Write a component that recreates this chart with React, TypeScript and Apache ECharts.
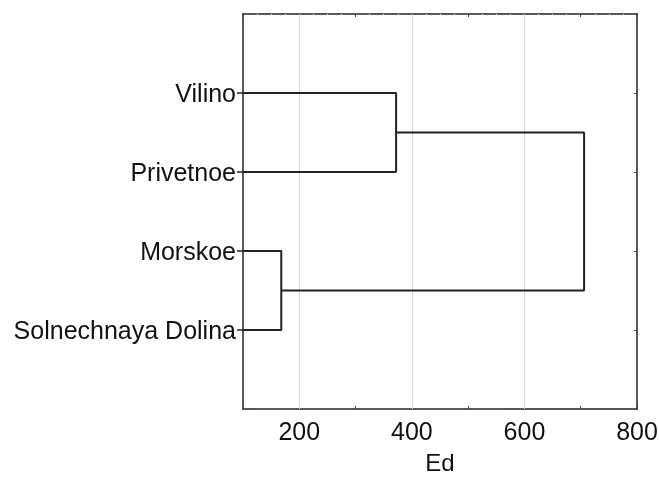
import React, { useEffect, useRef } from "react";
import * as echarts from "echarts";

const leaves = ["Vilino", "Privetnoe", "Morskoe", "Solnechnaya Dolina"];
// merges: [childA, childB, height]; children are leaf names or "c<index>"
const merges: [string, string, number][] = [
  ["Vilino", "Privetnoe", 372],
  ["Morskoe", "Solnechnaya Dolina", 168],
  ["c0", "c1", 706],
];
const xLabelValues = [200, 400, 600, 800];
const gridValues = [200, 400, 600];
const xMin = 100;
const xMax = 800;
const xName = "Ed";

function buildLinks() {
  const pos: Record<string, { x: number; y: number }> = {};
  leaves.forEach((l, i) => (pos[l] = { x: xMin, y: i + 1 }));
  const data: (number[] | null)[] = [];
  merges.forEach(([a, b, h], i) => {
    const pa = pos[a];
    const pb = pos[b];
    data.push([pa.x, pa.y], [h, pa.y], [h, pb.y], [pb.x, pb.y], null);
    pos["c" + i] = { x: h, y: (pa.y + pb.y) / 2 };
  });
  return data;
}

export default function App() {
  const ref = useRef<HTMLDivElement>(null);
  useEffect(() => {
    const chart = echarts.init(ref.current!, null, { renderer: "svg" });
    const font = "Arial, 'Liberation Sans', sans-serif";
    const fs = 25;
    const frame = { show: true, onZero: false, lineStyle: { color: "#222", width: 1.5 } };
    chart.setOption({
      animation: false,
      grid: { left: 243, right: 22, top: 14, bottom: 69, containLabel: false, outerBoundsMode: "none" },
      xAxis: [
        {
          type: "value",
          min: xMin,
          max: xMax,
          interval: 100,
          position: "bottom",
          name: xName,
          nameLocation: "middle",
          nameGap: 41,
          nameTextStyle: { fontFamily: font, fontSize: 24, color: "#111" },
          axisLine: frame,
          axisTick: { show: true, inside: true, length: 3, lineStyle: { color: "#444" } },
          axisLabel: {
            customValues: xLabelValues,
            fontFamily: font,
            fontSize: fs,
            color: "#111",
            margin: 9,
          },
          splitLine: { show: false },
        },
        {
          type: "value",
          min: xMin,
          max: xMax,
          interval: 100,
          position: "top",
          axisLine: frame,
          axisTick: { show: true, inside: true, length: 3, lineStyle: { color: "#444" } },
          minorTick: { show: true, splitNumber: 4, length: 2, lineStyle: { color: "#e4e4e4" } },
          axisLabel: { show: false },
          splitLine: { show: false },
        },
      ],
      yAxis: [
        {
          type: "value",
          inverse: true,
          min: 0,
          max: 5,
          interval: 1,
          position: "left",
          axisLine: frame,
          axisTick: { show: true, customValues: [1, 2, 3, 4], length: 6, lineStyle: { color: "#222", width: 1.5 } },
          axisLabel: {
            customValues: [1, 2, 3, 4],
            formatter: (v: number) => leaves[Math.round(v) - 1] ?? "",
            fontFamily: font,
            fontSize: fs,
            color: "#111",
            margin: 7,
          },
          splitLine: { show: false },
        },
        {
          type: "value",
          inverse: true,
          min: 0,
          max: 5,
          interval: 1,
          position: "right",
          axisLine: frame,
          axisTick: { show: true, inside: true, customValues: [1, 2, 3, 4], length: 3, lineStyle: { color: "#444" } },
          axisLabel: { show: false },
          splitLine: { show: false },
        },
      ],
      series: [
        {
          type: "line",
          xAxisIndex: 0,
          yAxisIndex: 0,
          data: buildLinks(),
          connectNulls: false,
          showSymbol: false,
          symbol: "none",
          lineStyle: { color: "#222", width: 2 },
          z: 3,
          markLine: {
            silent: true,
            symbol: "none",
            label: { show: false },
            lineStyle: { color: "#d4d4d4", width: 1, type: "solid" },
            data: gridValues.map((v) => ({ xAxis: v })),
            z: 1,
          },
        },
      ],
    });
    return () => chart.dispose();
  }, []);
  return <div ref={ref} style={{ width: 659, height: 478, position: "fixed", left: 0, top: 0 }} />;
}
